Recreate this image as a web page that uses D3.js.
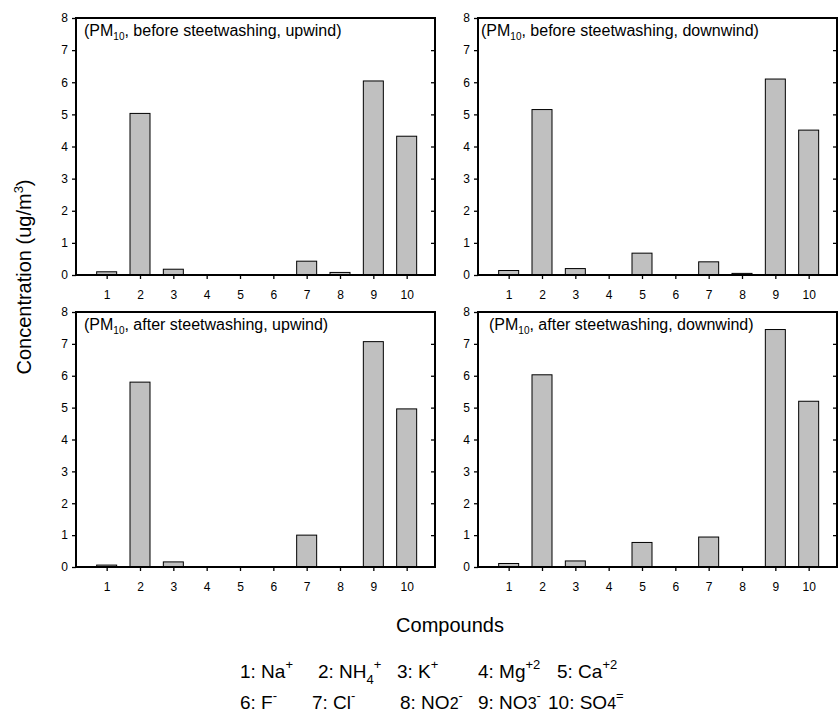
<!DOCTYPE html>
<html>
<head>
<meta charset="utf-8">
<script src="https://cdn.jsdelivr.net/npm/d3@7"></script>
<style>
  body { margin: 0; background: #fff; }
  svg { font-family: "Liberation Sans", Arial, sans-serif; }
  .tick text { font-size: 12px; fill: #000; }
  .tick line { stroke: #000; stroke-width: 1.3; }
</style>
</head>
<body>
<div id="chart"></div>
<script>
// compounds 1..10 on the x axis
var compounds = [1, 2, 3, 4, 5, 6, 7, 8, 9, 10];
var yTicks = [0, 1, 2, 3, 4, 5, 6, 7, 8];

// concentrations (ug/m3)
var beforeUpwind   = [0.10, 5.03, 0.18, 0, 0,    0, 0.43, 0.08, 6.04, 4.32];
var beforeDownwind = [0.14, 5.15, 0.20, 0, 0.68, 0, 0.41, 0.05, 6.10, 4.51];
var afterUpwind    = [0.06, 5.80, 0.16, 0, 0,    0, 1.00, 0,    7.07, 4.96];
var afterDownwind  = [0.11, 6.03, 0.19, 0, 0.77, 0, 0.94, 0,    7.45, 5.20];

var panelTitles = [
    ["before steetwashing, upwind", beforeUpwind],
    ["before steetwashing, downwind", beforeDownwind],
    ["after steetwashing, upwind", afterUpwind],
    ["after steetwashing, downwind", afterDownwind]
];

var svg = d3.select("#chart").append("svg")
    .attr("width", 838)
    .attr("height", 717);

// panel boxes: left, right, top, bottom, title offset
var panels = [
    { x0: 76,  x1: 435, y0: 18,  y1: 275, tx: 8 },
    { x0: 478, x1: 837, y0: 18,  y1: 275, tx: 3 },
    { x0: 76,  x1: 435, y0: 312, y1: 567, tx: 8 },
    { x0: 478, x1: 837, y0: 312, y1: 567, tx: 11 }
];

panels.forEach(function(p, i) {
    var values = panelTitles[i][1];

    var x = d3.scaleLinear().domain([0.08, 10.85]).range([p.x0, p.x1]);
    var y = d3.scaleLinear().domain([0, 8]).range([p.y1, p.y0]);
    var bw = x(0.6) - x(0);

    var g = svg.append("g");

    g.selectAll("rect.bar")
        .data(values)
        .enter()
        .append("rect")
        .attr("class", "bar")
        .attr("x", function(d, j) { return x(compounds[j]) - bw / 2; })
        .attr("y", function(d) { return y(d); })
        .attr("width", bw)
        .attr("height", function(d) { return y(0) - y(d); })
        .attr("fill", "#c0c0c0")
        .attr("stroke", "#000")
        .attr("stroke-width", 1);

    // left axis (outward ticks, labels)
    var left = g.append("g")
        .attr("transform", "translate(" + p.x0 + ",0)")
        .call(d3.axisLeft(y).tickValues(yTicks).tickSize(4).tickPadding(4));
    left.select(".domain").remove();

    // right side: inward ticks only
    var right = g.append("g")
        .attr("transform", "translate(" + p.x1 + ",0)")
        .call(d3.axisRight(y).tickValues(yTicks.slice(1, 8)).tickSize(-4).tickFormat(""));
    right.select(".domain").remove();

    var bottom = g.append("g")
        .attr("transform", "translate(0," + p.y1 + ")")
        .call(d3.axisBottom(x).tickValues(compounds).tickSize(4).tickPadding(11).tickFormat(d3.format("d")));
    bottom.select(".domain").remove();

    // frame
    g.append("rect")
        .attr("x", p.x0)
        .attr("y", p.y0)
        .attr("width", p.x1 - p.x0)
        .attr("height", p.y1 - p.y0)
        .attr("fill", "none")
        .attr("stroke", "#000")
        .attr("stroke-width", 2);

    // panel label
    var t = g.append("text")
        .attr("x", p.x0 + p.tx)
        .attr("y", p.y0 + 18)
        .style("font-size", "16px");
    t.append("tspan").text("(PM");
    t.append("tspan").text("10").attr("dy", 4).style("font-size", "10px");
    t.append("tspan").text(", " + panelTitles[i][0] + ")").attr("dy", -4);
});

// axis titles
var ylab = svg.append("text")
    .attr("transform", "translate(31,277) rotate(-90)")
    .attr("text-anchor", "middle")
    .style("font-size", "20px");
ylab.append("tspan").text("Concentration (ug/m");
ylab.append("tspan").text("3").attr("dy", -8).style("font-size", "13px");
ylab.append("tspan").text(")").attr("dy", 8);

svg.append("text")
    .attr("x", 450)
    .attr("y", 632)
    .attr("text-anchor", "middle")
    .style("font-size", "20px")
    .text("Compounds");

// compound key, [text, shift, size] pieces
var keyRow1 = [
    [240, [["1: Na", 0], ["+", -1]]],
    [318, [["2: NH", 0], ["4", 1], ["+", -1]]],
    [397, [["3: K", 0], ["+", -1]]],
    [478, [["4: Mg", 0], ["+2", -1]]],
    [557, [["5: Ca", 0], ["+2", -1]]]
];
var keyRow2 = [
    [240, [["6: F", 0], ["-", -1]]],
    [312, [["7: Cl", 0], ["-", -1]]],
    [400, [["8: NO", 0], ["2", 2], ["-", -1]]],
    [478, [["9: NO", 0], ["3", 2], ["-", -1]]],
    [548, [["10: SO", 0], ["4", 2], ["=", -1]]]
];

function drawKey(row, baseY) {
    row.forEach(function(item) {
        var t = svg.append("text")
            .attr("x", item[0])
            .attr("y", baseY)
            .style("font-size", "19px");
        var level = 0;
        item[1].forEach(function(part) {
            var shift = part[1];
            var target = shift === -1 ? -9 : (shift === 1 ? 6 : 0);
            var ts = t.append("tspan").text(part[0]).attr("dy", target - level);
            level = target;
            if (shift !== 0) ts.style("font-size", shift === 2 ? "16px" : "13px");
        });
    });
}
drawKey(keyRow1, 678);
drawKey(keyRow2, 709);
</script>
</body>
</html>
